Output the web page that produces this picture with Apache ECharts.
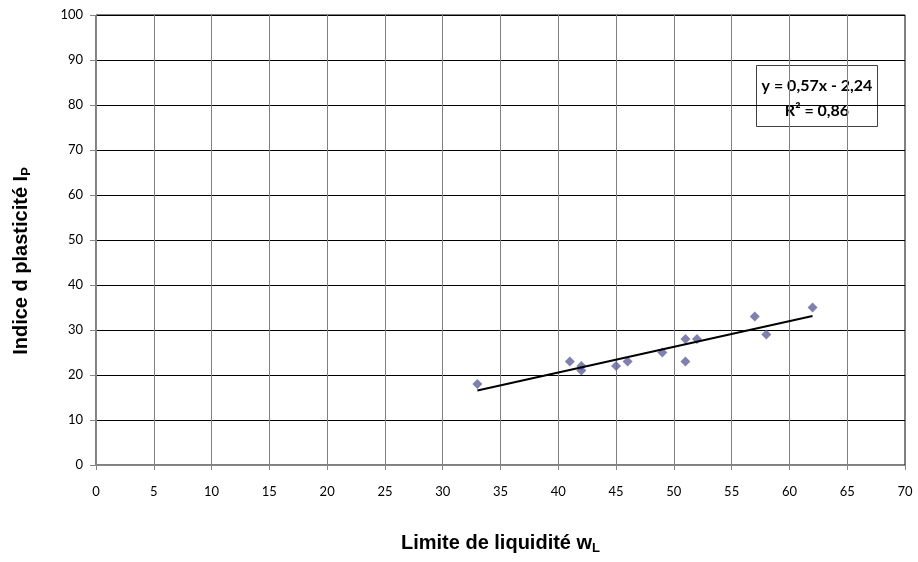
<!DOCTYPE html>
<html>
<head>
<meta charset="utf-8">
<script src="https://cdn.jsdelivr.net/npm/echarts@6/dist/echarts.min.js"></script>
<style>html,body{margin:0;padding:0;background:#fff}#c{width:918px;height:562px}</style>
</head>
<body>
<div id="c"></div>
<script>
// Data
const liquidLimit = [33, 41, 42, 42, 45, 46, 49, 51, 51, 52, 57, 58, 62];
const plasticityIndex = [18, 23, 22, 21, 22, 23, 25, 28, 23, 28, 33, 29, 35];
const trendSlope = 0.57;
const trendIntercept = -2.24;
const rSquared = 0.86;
const trendRange = [33, 62];

const points = liquidLimit.map((x, i) => [x, plasticityIndex[i]]);
const trend = trendRange.map(x => [x, trendSlope * x + trendIntercept]);
const fmt = v => String(v).replace('.', ',');
const eqText = 'y = ' + fmt(trendSlope) + 'x - ' + fmt(Math.abs(trendIntercept));
const r2Text = 'R² = ' + fmt(rSquared);

const chart = echarts.init(document.getElementById('c'), null, {renderer: 'canvas'});
const tickFont = {fontFamily: 'Lato, "Open Sans", sans-serif', fontSize: 13, color: '#000'};
const TF = '"Liberation Sans", Arial, sans-serif';
const titleRich = {
  m: {fontFamily: TF, fontWeight: 'bold', fontSize: 20, color: '#000', lineHeight: 24, verticalAlign: 'middle'},
  s: {fontFamily: TF, fontWeight: 'bold', fontSize: 13, color: '#000', lineHeight: 24, verticalAlign: 'bottom', padding: [9, 0, 0, 0]}
};
chart.setOption({
  animation: false,
  grid: {left: 96, right: 13, top: 15, bottom: 97, outerBoundsMode: 'none', containLabel: false,
         show: true, borderColor: '#000', borderWidth: 1, backgroundColor: '#fff'},
  xAxis: {
    type: 'value', min: 0, max: 70, interval: 5,
    name: '{m|Limite de liquidité w}{s|L}',
    nameLocation: 'middle', nameGap: 66,
    nameTextStyle: {rich: titleRich},
    axisLine: {show: true, lineStyle: {color: '#868686', width: 1}},
    axisTick: {show: true, length: 5, lineStyle: {color: '#868686'}},
    axisLabel: Object.assign({margin: 20}, tickFont),
    splitLine: {show: true, lineStyle: {color: '#808080', width: 1}}
  },
  yAxis: {
    type: 'value', min: 0, max: 100, interval: 10,
    name: '{m|Indice d plasticité I}{s|P}',
    nameLocation: 'middle', nameGap: 63,
    nameTextStyle: {rich: titleRich, padding: [0, 42, 0, 0]},
    axisLine: {show: true, lineStyle: {color: '#868686', width: 1}},
    axisTick: {show: true, length: 6, lineStyle: {color: '#868686'}},
    axisLabel: Object.assign({margin: 13}, tickFont),
    splitLine: {show: true, lineStyle: {color: '#000', width: 1}}
  },
  series: [
    {
      type: 'scatter', data: points, symbol: 'diamond', symbolSize: 10,
      itemStyle: {color: '#62629C'}, z: 3
    },
    {
      type: 'line', data: trend, showSymbol: false, symbol: 'none',
      lineStyle: {color: '#000', width: 2}, z: 4, silent: true
    }
  ],
  graphic: [{
    type: 'group', left: 756, top: 65, z: 10,
    children: [
      {type: 'rect', shape: {x: 0, y: 0, width: 121, height: 61}, style: {fill: '#fff', stroke: '#404040', lineWidth: 1}},
      {type: 'text', x: 60.5, y: 20, style: {text: eqText, align: 'center', verticalAlign: 'middle', fontSize: 16, fontWeight: 'bold', fontFamily: 'Lato, "Open Sans", sans-serif', fill: '#000'}},
      {type: 'text', x: 60.5, y: 45, style: {text: r2Text, align: 'center', verticalAlign: 'middle', fontSize: 16, fontWeight: 'bold', fontFamily: 'Lato, "Open Sans", sans-serif', fill: '#000'}}
    ]
  }]
});
</script>
</body>
</html>
